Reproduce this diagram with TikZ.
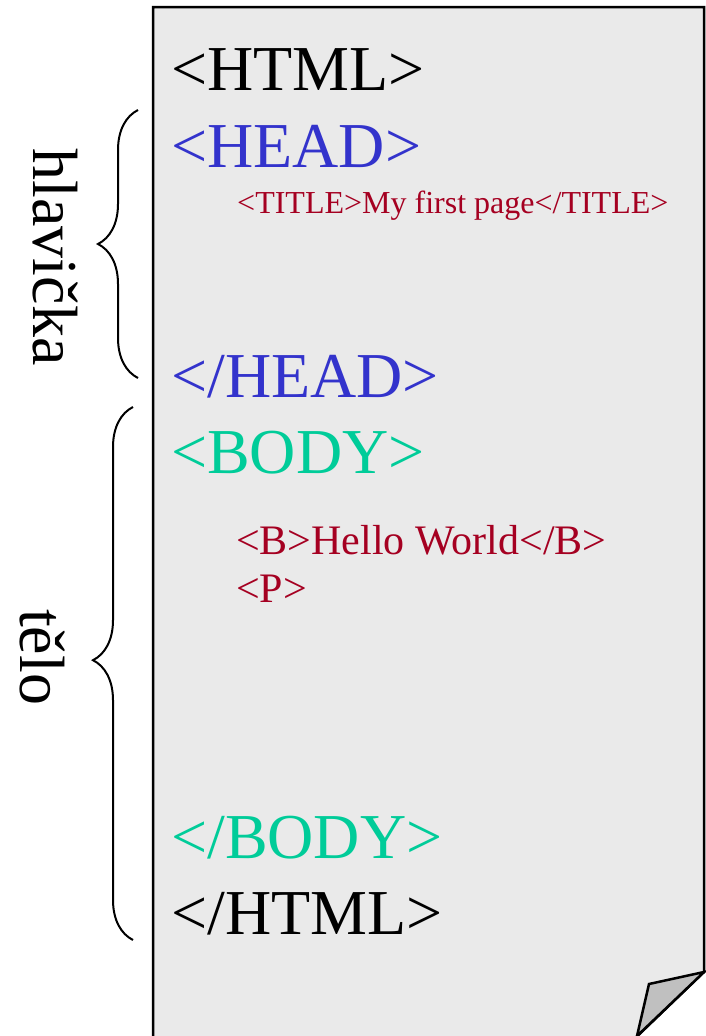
\documentclass[tikz,border=0pt]{standalone}
\usepackage{fontspec}
\setmainfont{Liberation Serif}
\usetikzlibrary{decorations.pathreplacing}
\definecolor{paper}{HTML}{EAEAEA}
\definecolor{dogear}{HTML}{C0C0C0}
\definecolor{headblue}{HTML}{3333CC}
\definecolor{bodygreen}{HTML}{00CC99}
\definecolor{tagred}{HTML}{A50021}
\begin{document}
\begin{tikzpicture}[x=1pt,y=-1pt,
  bigtag/.style={anchor=base west,inner sep=0pt,font=\fontsize{64}{64}\selectfont},
  smalltag/.style={anchor=base west,inner sep=0pt,text=tagred,font=\fontsize{#1}{#1}\selectfont},
  sidelabel/.style={anchor=base,inner sep=0pt,rotate=-90,font=\fontsize{64}{64}\selectfont},
  curly/.style={decorate,decoration={brace,amplitude=40pt,aspect=#1},line width=2pt}]
\useasboundingbox (0,0) rectangle (706,1036);
\clip (0,0) rectangle (706,1036);

% Sheet of paper
\draw[line width=2.5pt,fill=paper] (153,1050) -- (153,7) -- (704,7) -- (704,972) -- (627,1046) -- cycle;

% Folded corner
\draw[line width=2.5pt,fill=dogear] (704,972) -- (649,984) -- (637,1036) -- cycle;

% HTML source lines
\node[bigtag] (html) at (171,90) {<HTML>};
\node[bigtag,text=headblue] (head) at (171,167) {<HEAD>};
\node[smalltag=32] (title) at (237,213) {<TITLE>My first page</TITLE>};
\node[bigtag,text=headblue] (headend) at (171,397) {</HEAD>};
\node[bigtag,text=bodygreen] (body) at (171,473) {<BODY>};
\node[smalltag=42] (hello) at (236,554) {<B>Hello World</B>};
\node[smalltag=42] (para) at (236,602) {<P>};
\node[bigtag,text=bodygreen] (bodyend) at (171,858) {</BODY>};
\node[bigtag] (htmlend) at (171,934) {</HTML>};

% Braces on the left
\coordinate (headbot) at (138,378);
\coordinate (headtop) at (138,110);
\coordinate (bodybot) at (133,940);
\coordinate (bodytop) at (133,407);
\draw[curly=0.5] (headbot) -- (headtop);
\draw[curly=0.525] (bodybot) -- (bodytop);

% Side labels
\node[sidelabel] (lblhead) at (33,257) {hlavička};
\node[sidelabel] (lblbody) at (20,657) {tělo};
\end{tikzpicture}
\end{document}
